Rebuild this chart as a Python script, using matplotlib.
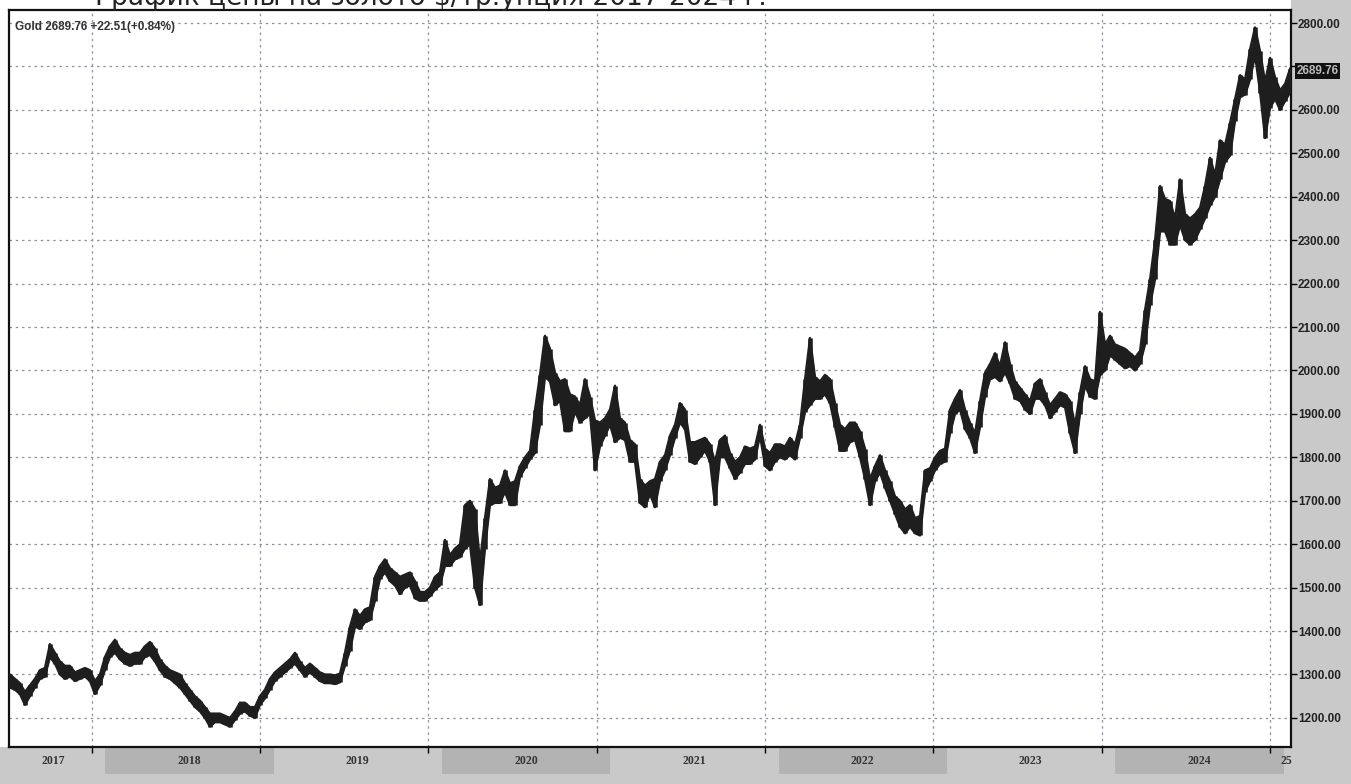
import numpy as np
import pandas as pd
import matplotlib
matplotlib.use('Agg')
import matplotlib.pyplot as plt
from matplotlib.patches import Rectangle

# gold price, bar low / high (about every 11 days)
lows = [
    1270, 1265, 1255, 1230, 1250, 1270, 1290, 1295, 1340, 1325,
    1300, 1290, 1295, 1285, 1290, 1295, 1285, 1255, 1275, 1310,
    1340, 1350, 1335, 1325, 1320, 1325, 1325, 1340, 1345, 1330,
    1310, 1295, 1290, 1280, 1270, 1255, 1240, 1225, 1215, 1200,
    1180, 1190, 1190, 1185, 1180, 1195, 1210, 1215, 1205, 1200,
    1230, 1245, 1265, 1285, 1295, 1305, 1315, 1325, 1310, 1295,
    1305, 1295, 1285, 1280, 1280, 1278, 1282, 1320, 1355, 1410,
    1405, 1420, 1425, 1470, 1520, 1535, 1515, 1505, 1485, 1500,
    1505, 1475, 1470, 1470, 1480, 1495, 1505, 1550, 1550, 1565,
    1570, 1590, 1600, 1500, 1460, 1590, 1690, 1695, 1695, 1720,
    1690, 1690, 1755, 1775, 1795, 1810, 1875, 1985, 1975, 1920,
    1930, 1860, 1860, 1905, 1880, 1890, 1900, 1770, 1825, 1850,
    1875, 1835, 1845, 1840, 1790, 1790, 1695, 1685, 1715, 1685,
    1745, 1770, 1805, 1845, 1880, 1865, 1790, 1785, 1800, 1815,
    1790, 1690, 1800, 1800, 1775, 1750, 1765, 1785, 1785, 1795,
    1850, 1780, 1770, 1790, 1800, 1795, 1805, 1795, 1845, 1905,
    1920, 1935, 1935, 1945, 1925, 1870, 1815, 1815, 1835, 1840,
    1800, 1750, 1690, 1745, 1765, 1730, 1700, 1670, 1640, 1625,
    1640, 1625, 1620, 1720, 1745, 1770, 1785, 1790, 1855, 1900,
    1910, 1865, 1845, 1810, 1870, 1940, 1980, 1985, 1975, 1995,
    1970, 1935, 1930, 1910, 1900, 1935, 1935, 1920, 1890, 1905,
    1920, 1915, 1855, 1810, 1900, 1965, 1940, 1935, 1990, 2000,
    2035, 2025, 2015, 2005, 2010, 2000, 2015, 2060, 2150, 2210,
    2320, 2320, 2290, 2290, 2335, 2300, 2290, 2300, 2325, 2350,
    2380, 2400, 2440, 2480, 2495, 2575, 2630, 2635, 2670, 2725,
    2640, 2535, 2605, 2625, 2600, 2620, 2640,
]
highs = [
    1300, 1290, 1280, 1260, 1275, 1290, 1310, 1315, 1370, 1350,
    1330, 1320, 1320, 1305, 1310, 1315, 1310, 1285, 1300, 1340,
    1365, 1380, 1360, 1350, 1345, 1350, 1350, 1365, 1375, 1360,
    1335, 1320, 1310, 1305, 1300, 1280, 1265, 1250, 1240, 1225,
    1210, 1210, 1210, 1205, 1200, 1215, 1235, 1235, 1225, 1225,
    1250, 1265, 1290, 1305, 1315, 1325, 1335, 1350, 1330, 1315,
    1325, 1315, 1305, 1300, 1300, 1298, 1302, 1350, 1410, 1450,
    1435, 1450, 1455, 1525, 1550, 1565, 1545, 1535, 1525, 1530,
    1535, 1515, 1490, 1490, 1500, 1525, 1535, 1610, 1575, 1590,
    1600, 1690, 1700, 1680, 1560, 1660, 1750, 1730, 1735, 1770,
    1740, 1745, 1780, 1800, 1815, 1910, 1990, 2080, 2050, 1995,
    1975, 1980, 1945, 1940, 1920, 1980, 1940, 1885, 1880, 1890,
    1910, 1965, 1890, 1880, 1840, 1830, 1750, 1735, 1745, 1750,
    1790, 1805, 1850, 1875, 1925, 1910, 1835, 1835, 1840, 1845,
    1830, 1790, 1840, 1850, 1810, 1790, 1800, 1825, 1820, 1825,
    1875, 1820, 1810, 1830, 1830, 1825, 1845, 1830, 1875, 1980,
    2075, 1985, 1975, 1990, 1980, 1925, 1875, 1865, 1880, 1880,
    1860, 1820, 1750, 1780, 1805, 1770, 1745, 1710, 1700, 1680,
    1690, 1660, 1665, 1770, 1775, 1800, 1815, 1820, 1910, 1935,
    1955, 1910, 1880, 1855, 1930, 1995, 2015, 2040, 2010, 2065,
    2015, 1975, 1960, 1945, 1930, 1970, 1980, 1950, 1920, 1935,
    1950, 1945, 1930, 1875, 1950, 2010, 1980, 1975, 2135, 2060,
    2080, 2060, 2055, 2050, 2040, 2030, 2045, 2140, 2210, 2300,
    2425, 2395, 2390, 2350, 2440, 2360, 2350, 2360, 2375, 2425,
    2490, 2450, 2530, 2520, 2570, 2625, 2680, 2670, 2740, 2790,
    2735, 2665, 2720, 2675, 2645, 2660, 2695,
]
dates = pd.date_range('2017-07-07', '2025-02-13', periods=len(lows))

year_labels = ['2017', '2018', '2019', '2020', '2021', '2022', '2023', '2024', '25']
label_dates = ['2017-10-08', '2018-07-31', '2019-07-31', '2020-07-31', '2021-07-31',
               '2022-07-31', '2023-07-31', '2024-07-31', '2025-02-04']
band_years = [2018, 2020, 2022, 2024]
price_ticks = list(range(1200, 2801, 100))
last_price = 2689.76
title = 'График цены на золото $/тр.унция 2017-2024 г.'
caption = 'Gold 2689.76 +22.51(+0.84%)'

W, H = 1351, 784
fig = plt.figure(figsize=(W / 100, H / 100), dpi=100, facecolor='white')

# grey strips (right price scale, bottom time scale)
fig.patches.append(Rectangle((1291 / W, 0), 60 / W, 1, transform=fig.transFigure,
                             facecolor='#c9c9c9', edgecolor='none', zorder=-10))
fig.patches.append(Rectangle((0, 0), 1, 37 / H, transform=fig.transFigure,
                             facecolor='#c9c9c9', edgecolor='none', zorder=-10))

xmin, xmax = pd.Timestamp('2017-07-05'), pd.Timestamp('2025-02-15')

# bottom time strip
axb = fig.add_axes([9 / W, 0, 1282 / W, 37 / H])
axb.set_xlim(xmin, xmax)
axb.set_ylim(0, 1)
axb.axis('off')
for y in band_years:
    axb.axvspan(pd.Timestamp(f'{y}-01-30'), pd.Timestamp(f'{y + 1}-01-30'),
                ymin=0.28, ymax=1, color='#b3b3b3', lw=0)
for lab, d in zip(year_labels, label_dates):
    axb.text(pd.Timestamp(d), 0.62, lab, ha='center', va='center',
             fontsize=8.5, fontweight='bold', color='#333333', family='Liberation Serif')

# main chart
ax = fig.add_axes([9 / W, 37 / H, 1282 / W, (747 - 10) / H])
ax.set_facecolor('white')
ax.vlines(dates, lows, highs, color='#1e1e1e', lw=3.3, zorder=3)
ax.fill_between(dates, lows, highs, color='#1e1e1e', lw=0, zorder=3)
ax.plot(dates, lows, color='#1e1e1e', lw=1.6, zorder=3)
ax.plot(dates, highs, color='#1e1e1e', lw=1.6, zorder=3)

ax.set_xlim(xmin, xmax)
ax.set_ylim(1133, 2830)
ax.set_yticks(price_ticks)
ax.set_yticklabels(['' if p == 2700 else f'{p:.2f}' for p in price_ticks])
ax.yaxis.tick_right()
ax.tick_params(axis='y', direction='out', length=4, width=1, pad=1,
               labelsize=8.5, labelcolor='#222222')
for t in ax.get_yticklabels():
    t.set_fontweight('bold')
    t.set_family('Liberation Sans')
ax.set_xticks([pd.Timestamp(f'{y}-01-01') for y in range(2018, 2026)])
ax.set_xticklabels([])
ax.tick_params(axis='x', direction='out', length=4, width=1)
ax.grid(True, linestyle=(0, (2, 3)), color='#8c94a4', lw=0.9, zorder=1)
for s in ax.spines.values():
    s.set_linewidth(1.6)
    s.set_color('#111111')

ax.text(0.005, 0.985, caption, transform=ax.transAxes, ha='left', va='top',
        fontsize=8.5, fontweight='bold', color='#333333', family='Liberation Sans', zorder=5)

# last price marker on the scale
ax.annotate(f'{last_price:.2f}', xy=(1, last_price), xycoords=('axes fraction', 'data'),
            xytext=(4, 0), textcoords='offset points', ha='left', va='center',
            fontsize=8.5, fontweight='bold', color='#bbbbbb', family='Liberation Sans',
            bbox=dict(boxstyle='square,pad=0.15', fc='#111111', ec='none'),
            annotation_clip=False, zorder=6)

fig.text(95 / W, 1 - 5 / H, title, ha='left', va='baseline', fontsize=19,
         color='#222222', family='DejaVu Sans')

plt.savefig('out.png', dpi=100)
